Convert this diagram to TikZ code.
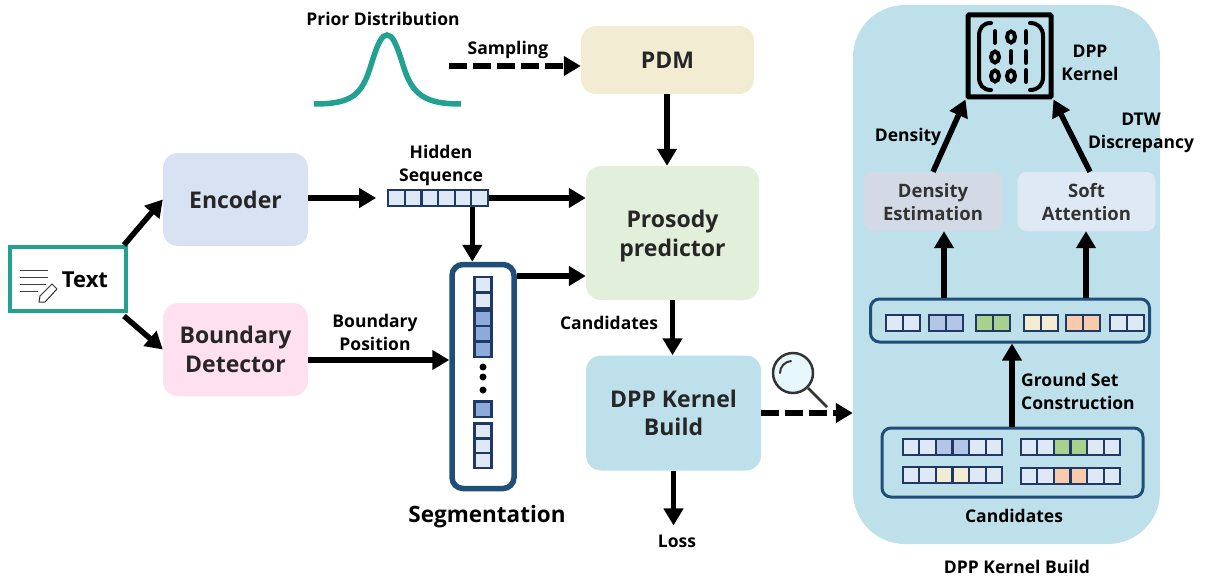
\documentclass[tikz,border=0pt]{standalone}
\usepackage{fontspec}
\setmainfont{Open Sans}
\usetikzlibrary{arrows.meta,positioning}
\definecolor{tealline}{HTML}{22A090}
\definecolor{navyline}{HTML}{1F4E79}
\definecolor{cellline}{HTML}{1F3864}
\definecolor{cellpale}{HTML}{DEE9F5}
\definecolor{cellblue}{HTML}{B4C6E7}
\definecolor{celldeep}{HTML}{8EAADB}
\definecolor{cellgreen}{HTML}{A9D18E}
\definecolor{cellcream}{HTML}{F2ECD3}
\definecolor{cellpeach}{HTML}{F8CBAD}
\definecolor{panelblue}{HTML}{BEE0EA}
\definecolor{encoderfill}{HTML}{D9E2F3}
\definecolor{boundaryfill}{HTML}{FFE0EE}
\definecolor{prosodyfill}{HTML}{E2EFDA}
\definecolor{densityfill}{HTML}{D3DAE5}
\tikzset{
	blockbox/.style={rounded corners=15pt,align=center,text=black!85,inner sep=0pt,font=\fontsize{23}{28.5}\selectfont\bfseries},
	subbox/.style={rounded corners=9pt,align=center,text=black!80,inner sep=0pt,minimum width=138pt,minimum height=59pt,font=\fontsize{18.5}{23}\selectfont\bfseries},
	lab/.style={align=center,inner sep=0pt,font=\fontsize{17.5}{23}\selectfont\bfseries},
	flow/.style={-{Triangle[length=17pt,width=19pt]},line width=5.5pt},
	dashflow/.style={flow,line width=6pt,dash pattern=on 18pt off 6pt},
	cell/.style={draw=cellline,line width=2.2pt,inner sep=0pt,minimum width=16.6pt,minimum height=16pt},
	vcell/.style={cell,minimum width=17pt,minimum height=15.2pt},
	frame/.style={draw=navyline,line width=3pt,rounded corners=9pt,inner sep=0pt}
}
\newcommand{\seqrow}[4]{
	\foreach \c [count=\i] in {#4}
		\node[cell,fill=\c] (#1-\i) at ({#2+(\i-1)*16.6},#3) {};
}
\newcommand{\pairrow}[3]{
	\foreach \c [count=\i] in {#3}
		\node[cell,fill=\c] (#1-\i) at ({#2+(\i-1)*17},323) {};
}
\begin{document}
\begin{tikzpicture}[x=1pt,y=-1pt,on grid]
	\useasboundingbox (0,0) rectangle (1206,583);
	\node[draw=tealline,line width=4pt,inner sep=0pt,minimum width=116pt,minimum height=64pt] (text) at (68,279) {};
	\node[lab,font=\fontsize{22}{26}\selectfont\bfseries] (textlab) at (85,280) {Text};
	\foreach \ly/\lx in {270/48,277/48,284/46,291/38}
		\draw[black!75,line width=1pt] (20,\ly) -- (\lx,\ly);
	\draw[black!80,line width=1pt,line join=round,fill=white] (39,302) -- (45,302) -- (57,289) -- (52,284) -- (40,296) -- cycle;

	\node[blockbox,fill=encoderfill,minimum width=145pt,minimum height=93pt] (encoder) at (235.5,199.5) {Encoder};
	\node[blockbox,fill=boundaryfill,minimum width=145pt,minimum height=93pt] (boundary) [below=150pt of encoder] {Boundary\\Detector};
	\node[blockbox,fill=cellcream,minimum width=173pt,minimum height=68pt] (pdm) at (667.5,60) {PDM};
	\node[blockbox,fill=prosodyfill,minimum width=173pt,minimum height=134pt] (prosody) at (672.5,233) {};
	\node[blockbox] (prosodylab) at (672.5,236) {Prosody\\predictor};
	\node[blockbox,fill=panelblue,minimum width=175pt,minimum height=115pt] (build) at (673.5,413) {DPP Kernel\\Build};

	\node[lab] (prior) at (383,19) {Prior Distribution};
	\draw[tealline,line width=5.5pt] (314,104) .. controls (352,104) and (362,95) .. (371,65) .. controls (378,42) and (382,35) .. (387,35) .. controls (392,35) and (396,42) .. (403,65) .. controls (412,95) and (425,104) .. (461,104);
	\coordinate (priorout) at (449,66);
	\node[lab] (sampling) at (508,50) {Sampling};

	\node[lab] (hiddenlab) at (441,165.5) {Hidden\\Sequence};
	\seqrow{hidden}{396.5}{198}{cellpale,cellpale,cellpale,cellpale,cellpale,cellpale}

	\node[draw=navyline,line width=5.5pt,rounded corners=11pt,fill=white,minimum width=62pt,minimum height=224pt] (seg) at (483,376.5) {};
	\foreach \c/\sy [count=\i] in {cellpale/284.5,cellpale/300,celldeep/318,celldeep/333.5,celldeep/349,celldeep/409,cellpale/431,cellpale/446,cellpale/460.5}
		\node[vcell,fill=\c] (segcell-\i) at (483,\sy) {};
	\foreach \sy [count=\i] in {367,377,390}
		\node[circle,fill=black,inner sep=0pt,minimum size=7pt] (segdot-\i) at (483,\sy) {};
	\node[lab,font=\fontsize{22.5}{26}\selectfont\bfseries] (seglab) at (487,517) {Segmentation};
	\node[lab] (poslab) at (375,332.5) {Boundary\\Position};
	\node[lab] (candlab) at (609,323) {Candidates};
	\node[lab] (loss) at (677,541) {Loss};

	\node[draw=black!80,line width=2.5pt,circle,fill=cyan!10!white,minimum size=40pt,inner sep=0pt] (lens) at (793,373) {};
	\coordinate (lensend) at (827,407);
	\draw[black!80,line width=2.5pt] (lens.south east) -- (lensend);
	\draw[black!80,line width=2pt,line cap=round] (780,373) arc (180:265:12);

	\node[fill=panelblue,rounded corners=52pt,minimum width=307pt,minimum height=539pt] (panel) at (1006.5,274.5) {};
	\node[lab] (panellab) at (1017,567) {DPP Kernel Build};

	\node[draw=black,line width=5pt,rounded corners=1pt,minimum width=83pt,minimum height=82pt,inner sep=0pt] (kernel) at (1009.5,56) {};
	\foreach \nx/\ny in {995/37,1026/37,1011/57,1026/57,1026/76}
		\draw[black,line width=4.8pt,line cap=round] (\nx,\ny-5.5) -- (\nx,\ny+5.5);
	\foreach \nx/\ny in {1011/37,995/57,995/76,1011/76}
		\draw[black,line width=4pt] (\nx,\ny) ellipse (4pt and 5.5pt);
	\draw[black,line width=4pt,line cap=round] (991,23) .. controls (983,23) and (979,28) .. (979,36) -- (979,77) .. controls (979,85) and (983,90) .. (991,90);
	\draw[black,line width=4pt,line cap=round] (1030,23) .. controls (1038,23) and (1043,28) .. (1043,36) -- (1043,77) .. controls (1043,85) and (1038,90) .. (1030,90);
	\node[lab] (kernellab) at (1090,62.5) {DPP\\Kernel};
	\node[lab] (densitylab) at (908,137) {Density};
	\node[lab] (dtwlab) at (1141,132.5) {DTW\\Discrepancy};

	\node[subbox,fill=densityfill] (density) at (933,201.5) {};
	\node[subbox] (densitytext) at (933,202.5) {Density\\Estimation};
	\node[subbox,fill=cellpale] (soft) [right=153.5pt of density] {};
	\node[subbox] (softtext) [right=153.5pt of densitytext] {Soft\\Attention};

	\node[frame,minimum width=279pt,minimum height=43pt] (ground) at (1010,320.5) {};
	\pairrow{gpa}{894.5}{cellpale,cellpale}
	\pairrow{gpb}{937.5}{cellblue,cellblue}
	\pairrow{gpc}{984.5}{cellgreen,cellgreen}
	\pairrow{gpd}{1032.5}{cellcream,cellcream}
	\pairrow{gpe}{1074.5}{cellpeach,cellpeach}
	\pairrow{gpf}{1118.5}{cellpale,cellpale}

	\node[frame,minimum width=261pt,minimum height=69pt] (cands) at (1012.5,462.5) {};
	\seqrow{csa}{911}{447}{cellpale,cellpale,cellblue,cellblue,cellpale,cellpale}
	\seqrow{csb}{1029}{447}{cellpale,cellpale,cellgreen,cellgreen,cellpale,cellpale}
	\seqrow{csc}{911}{475}{cellpale,cellpale,cellcream,cellcream,cellpale,cellpale}
	\seqrow{csd}{1029}{476}{cellpale,cellpale,cellpeach,cellpeach,cellpale,cellpale}
	\node[lab] (cand2lab) at (1014,516) {Candidates};
	\node[lab,align=left,anchor=west] (gslab) at (1021,391) {Ground Set\\Construction};

	\coordinate (textup) at (124,245);
	\coordinate (textdown) at (124,316);
	\path[flow]
	(textup) edge (encoder.west)
	(textdown) edge (boundary.west)
	(encoder.east |- hidden-1.west) edge [shorten >=11pt] (hidden-1.west)
	(hidden-6.east) edge (prosody.west |- hidden-6.east)
	(hidden-5.south east) edge (hidden-5.south east |- seg.north)
	(seg.east |- 0,276) edge (prosody.west |- 0,276)
	(boundary.east |- 0,360) edge (seg.west |- 0,360)
	(pdm.south -| 667,0) edge (prosody.north -| 667,0)
	(prosody.south) edge (build.north -| prosody.south)
	(build.south) edge [shorten >=9pt] (loss.north -| build.south)
	(density.north) edge (kernel.south west)
	(soft.north -| 1090,0) edge (kernel.south east)
	(ground.north -| 944,0) edge (density.south -| 944,0)
	(ground.north -| 1086,0) edge (soft.south -| 1086,0)
	(cands.north -| 1012,0) edge (ground.south -| 1012,0);
	\path[dashflow]
	(priorout) edge (pdm.west |- priorout)
	(build.east) edge (panel.west |- build.east);
\end{tikzpicture}
\end{document}
